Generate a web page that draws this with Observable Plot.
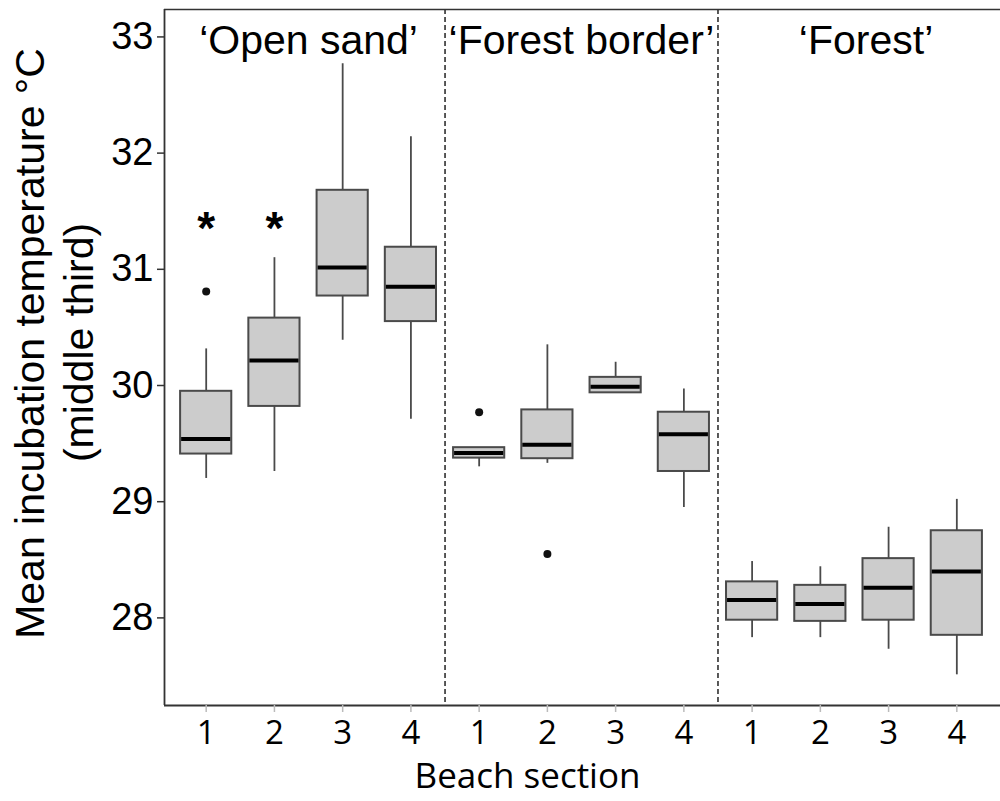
<!DOCTYPE html>
<html>
<head>
<meta charset="utf-8">
<script src="https://cdn.jsdelivr.net/npm/d3@7"></script>
<script src="https://cdn.jsdelivr.net/npm/@observablehq/plot@0.6"></script>
<style>
  html, body { margin: 0; padding: 0; background: #ffffff; }
  #chart { width: 1000px; height: 801px; }
</style>
</head>
<body>
<div id="chart"></div>
<script>
// ---- data ----
const zones = ["‘Open sand’", "‘Forest border’", "‘Forest’"];
const sections = ["1", "2", "3", "4"];
const whiskerLow  = [29.20, 29.26, 30.39, 29.71, 29.30, 29.33, 29.94, 28.95, 27.83, 27.83, 27.73, 27.51];
const quart1      = [29.41, 29.82, 30.77, 30.55, 29.375, 29.37, 29.937, 29.26, 27.98, 27.97, 27.98, 27.85];
const medians     = [29.54, 30.215, 31.015, 30.85, 29.42, 29.49, 29.99, 29.58, 28.155, 28.12, 28.26, 28.40];
const quart3      = [29.95, 30.58, 31.68, 31.19, 29.465, 29.79, 30.07, 29.77, 28.31, 28.28, 28.51, 28.75];
const whiskerHigh = [30.315, 31.10, 32.77, 32.14, 29.465, 30.35, 30.20, 29.97, 28.485, 28.44, 28.78, 29.02];
const outlierBox  = [1, 5, 6];
const outlierVal  = [30.81, 29.77, 28.55];
const sigBoxes    = [1, 2];
const sigLevel    = 31.43;
const yTicks      = [28, 29, 30, 31, 32, 33];
const yTitle      = ["Mean incubation temperature °C", "(middle third)"];
const xTitle      = "Beach section";

// ---- layout constants ----
const xDomain = [0.389, 12.64];
const yDomain = [27.246, 33.236];
const boxHalf = 0.375;
const zoneTitleX = [2.5, 6.5, 10.67];

// ---- build tables ----
const rows = medians.map((m, k) => ({
  i: k + 1,
  lo: whiskerLow[k], q1: quart1[k], med: m, q3: quart3[k], hi: whiskerHigh[k]
}));
const outliers = outlierBox.map((b, k) => ({i: b, v: outlierVal[k]}));
const boundaries = zones.slice(1).map((z, k) => (k + 1) * sections.length + 0.5);
const positions = d3.range(1, zones.length * sections.length + 1);

const chart = Plot.plot({
  width: 1000,
  height: 801,
  marginLeft: 164,
  marginRight: 0,
  marginTop: 9,
  marginBottom: 96,
  style: {fontFamily: "'Liberation Sans', Arial, sans-serif", background: "#ffffff", color: "#000"},
  x: {type: "linear", domain: xDomain},
  y: {domain: yDomain},
  marks: [
    Plot.ruleX(boundaries, {stroke: "#000", strokeWidth: 1.3, strokeDasharray: "5,3"}),
    Plot.ruleX(rows, {x: "i", y1: "lo", y2: "hi", stroke: "#4a4a4a", strokeWidth: 1.8}),
    Plot.rect(rows, {x1: d => d.i - boxHalf, x2: d => d.i + boxHalf, y1: "q1", y2: "q3",
      fill: "#cccccc", stroke: "#4a4a4a", strokeWidth: 2}),
    Plot.ruleY(rows, {x1: d => d.i - boxHalf + 0.015, x2: d => d.i + boxHalf - 0.015, y: "med",
      stroke: "#000", strokeWidth: 4}),
    Plot.dot(outliers, {x: "i", y: "v", r: 4, fill: "#111", stroke: null}),
    Plot.text(sigBoxes, {x: d => d, y: () => sigLevel, text: () => "*", fontSize: 46,
      fontWeight: "bold", dy: 10, fill: "#000"}),
    Plot.ruleX([xDomain[0]], {stroke: "#333", strokeWidth: 1.8}),
    Plot.ruleY([yDomain[0]], {stroke: "#333", strokeWidth: 1.8}),
    Plot.ruleY([yDomain[1]], {stroke: "#333", strokeWidth: 1.5}),
    Plot.axisY({ticks: yTicks, tickFormat: d => String(d), tickSize: 7, tickPadding: 4, fontSize: 38,
      label: null, stroke: "#333", strokeWidth: 1.5, fill: "#000"}),
    Plot.axisX({ticks: positions, tickFormat: d => sections[(d - 1) % sections.length],
      tickSize: 7, tickPadding: 8, fontSize: 33, fontFamily: "'Open Sans', sans-serif",
      label: null, stroke: "#bbbbbb", strokeWidth: 1.5, fill: "#000"}),
    Plot.text(zones, {x: (d, k) => zoneTitleX[k], frameAnchor: "top", lineAnchor: "bottom",
      dy: 44, fontSize: 41, text: d => d, fill: "#000"}),
    Plot.text([yTitle[0]], {frameAnchor: "left", textAnchor: "middle", rotate: -90, lineAnchor: "bottom",
      dx: -121, dy: -14, fontSize: 41, text: d => d, fill: "#000"}),
    Plot.text([yTitle[1]], {frameAnchor: "left", textAnchor: "middle", rotate: -90, lineAnchor: "bottom",
      dx: -72, dy: -15, fontSize: 41, text: d => d, fill: "#000"}),
    Plot.text([xTitle], {frameAnchor: "bottom", textAnchor: "middle", lineAnchor: "bottom", dx: -55, dy: 82,
      fontSize: 35, fontFamily: "'Open Sans', sans-serif", text: d => d, fill: "#000"})
  ]
});
document.getElementById("chart").appendChild(chart);
</script>
</body>
</html>
